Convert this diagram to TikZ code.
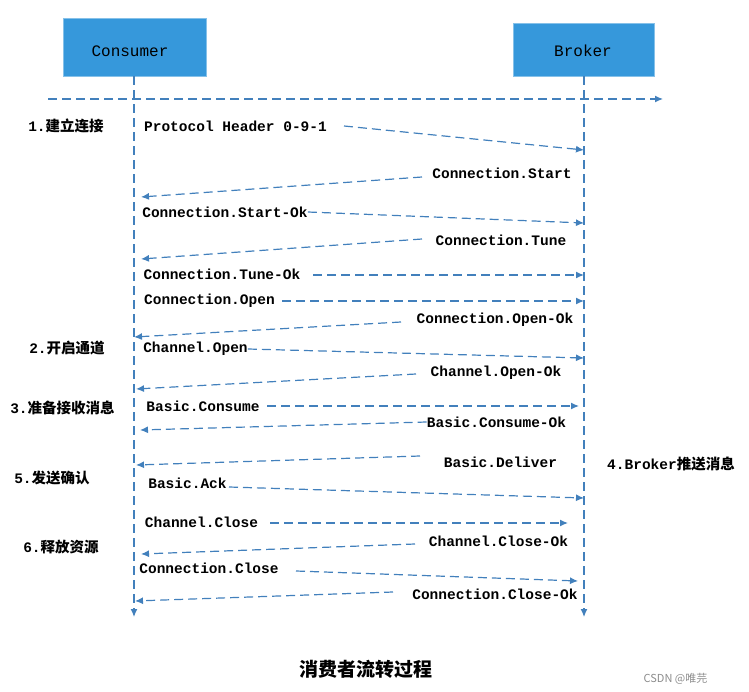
\documentclass[tikz,border=0pt]{standalone}
\usepackage{fontspec}
\setmonofont{Liberation Mono}
\newfontfamily\cjk{Noto Sans CJK SC}
\usetikzlibrary{arrows.meta}
\definecolor{boxblue}{RGB}{54,152,219}
\definecolor{arr}{RGB}{66,128,188}
\tikzset{
  actor/.style={fill=boxblue, draw=boxblue!60!white, line width=0.8pt, inner sep=0pt,
    font=\ttfamily\fontsize{16}{16}\selectfont},
  msg/.style={font=\ttfamily\bfseries\fontsize{14.5}{14.5}\selectfont, inner sep=0pt},
  steplabel/.style={font=\bfseries\fontsize{14.5}{14.5}\selectfont, inner sep=0pt},
  link/.style={draw=arr, line width=1.2pt, dash pattern=on 9pt off 5pt,
    -{Latex[length=8pt,width=7pt]}},
  lifeline/.style={link},
}
\newcommand{\zh}[1]{{\cjk\bfseries #1}}
\newcommand{\lt}[1]{{\ttfamily\bfseries #1}}
\begin{document}
\begin{tikzpicture}[x=1pt,y=-1pt]
\useasboundingbox (0,0) rectangle (749,692);
% actors
\node[actor, minimum width=143pt, minimum height=58pt] (cons) at (134.5,47) {};
\node[actor, minimum width=141pt, minimum height=53pt] (brok) at (583.5,49.5) {};
\node[font=\ttfamily\fontsize{16}{16}\selectfont, inner sep=0pt] (consT) at (130,51) {Consumer};
\node[font=\ttfamily\fontsize{16}{16}\selectfont, inner sep=0pt] (brokT) at (583,51) {Broker};
% lifelines
\coordinate (consEnd) at (134,617);
\coordinate (brokEnd) at (584,617);
\draw[lifeline] (cons.south -| consEnd) -- (consEnd);
\draw[lifeline] (brok.south -| brokEnd) -- (brokEnd);
% top horizontal line
\coordinate (hs) at (48,99);
\coordinate (he) at (663,99);
\draw[link] (hs) -- (he);

% messages
\node[msg] (m1) at (235.5,126) {Protocol Header 0-9-1};
\coordinate (m1s) at (344,126); \coordinate (m1e) at (584,150);
\draw[link] (m1s) -- (m1e);

\node[msg] (m2) at (502,173) {Connection.Start};
\coordinate (m2s) at (422,177); \coordinate (m2e) at (141,197);
\draw[link] (m2s) -- (m2e);

\node[msg] (m3) at (225,212) {Connection.Start-Ok};
\coordinate (m3e) at (584,223);
\draw[link] (m3.east) -- (m3e);

\node[msg] (m4) at (501,240) {Connection.Tune};
\coordinate (m4s) at (422,239); \coordinate (m4e) at (141,259);
\draw[link] (m4s) -- (m4e);

\node[msg] (m5) at (222,274) {Connection.Tune-Ok};
\coordinate (m5s) at (313,275); \coordinate (m5e) at (584,275);
\draw[link] (m5s) -- (m5e);

\node[msg] (m6) at (209.5,301) {Connection.Open};
\coordinate (m6s) at (282,301); \coordinate (m6e) at (584,301);
\draw[link] (m6s) -- (m6e);

\node[msg] (m7) at (495,320) {Connection.Open-Ok};
\coordinate (m7s) at (401,322); \coordinate (m7e) at (134,337);
\draw[link] (m7s) -- (m7e);

\node[msg] (m8) at (195.5,349) {Channel.Open};
\coordinate (m8e) at (584,358);
\draw[link] (m8.east) -- (m8e);

\node[msg] (m9) at (496,373) {Channel.Open-Ok};
\coordinate (m9s) at (416,374); \coordinate (m9e) at (136,389);
\draw[link] (m9s) -- (m9e);

\node[msg] (m10) at (203,406) {Basic.Consume};
\coordinate (m10s) at (267,406); \coordinate (m10e) at (579,406);
\draw[link] (m10s) -- (m10e);

\node[msg] (m11) at (496.5,422) {Basic.Consume-Ok};
\coordinate (m11e) at (140,430);
\draw[link] (m11.west) -- (m11e);

\node[msg] (m12) at (500.5,462) {Basic.Deliver};
\coordinate (m12s) at (420,456); \coordinate (m12e) at (136,465);
\draw[link] (m12s) -- (m12e);

\node[msg] (m13) at (187.5,483) {Basic.Ack};
\coordinate (m13s) at (229,487); \coordinate (m13e) at (584,498);
\draw[link] (m13s) -- (m13e);

\node[msg] (m14) at (201.5,522) {Channel.Close};
\coordinate (m14s) at (270,523); \coordinate (m14e) at (568,523);
\draw[link] (m14s) -- (m14e);

\node[msg] (m15) at (498.5,541) {Channel.Close-Ok};
\coordinate (m15s) at (415,544); \coordinate (m15e) at (141,554);
\draw[link] (m15s) -- (m15e);

\node[msg] (m16) at (209,568) {Connection.Close};
\coordinate (m16s) at (296,571); \coordinate (m16e) at (578,581);
\draw[link] (m16s) -- (m16e);

\node[msg] (m17) at (495,594) {Connection.Close-Ok};
\coordinate (m17s) at (393,592); \coordinate (m17e) at (135,601);
\draw[link] (m17s) -- (m17e);

% step labels
\node[steplabel] (s1) at (66,126) {\lt{1.}\zh{建立连接}};
\node[steplabel] (s2) at (67,348) {\lt{2.}\zh{开启通道}};
\node[steplabel] (s3) at (62.5,408) {\lt{3.}\zh{准备接收消息}};
\node[steplabel] (s4) at (671,464) {\lt{4.Broker}\zh{推送消息}};
\node[steplabel] (s5) at (52,478) {\lt{5.}\zh{发送确认}};
\node[steplabel] (s6) at (61,547) {\lt{6.}\zh{释放资源}};

% caption
\node[inner sep=0pt, font=\cjk\bfseries\fontsize{19}{19}\selectfont] (title) at (366,669) {消费者流转过程};
\node[inner sep=0pt, text=black!45, font=\cjk\fontsize{11}{11}\selectfont] (wm) at (675.5,679) {CSDN @唯芫};
\end{tikzpicture}
\end{document}
